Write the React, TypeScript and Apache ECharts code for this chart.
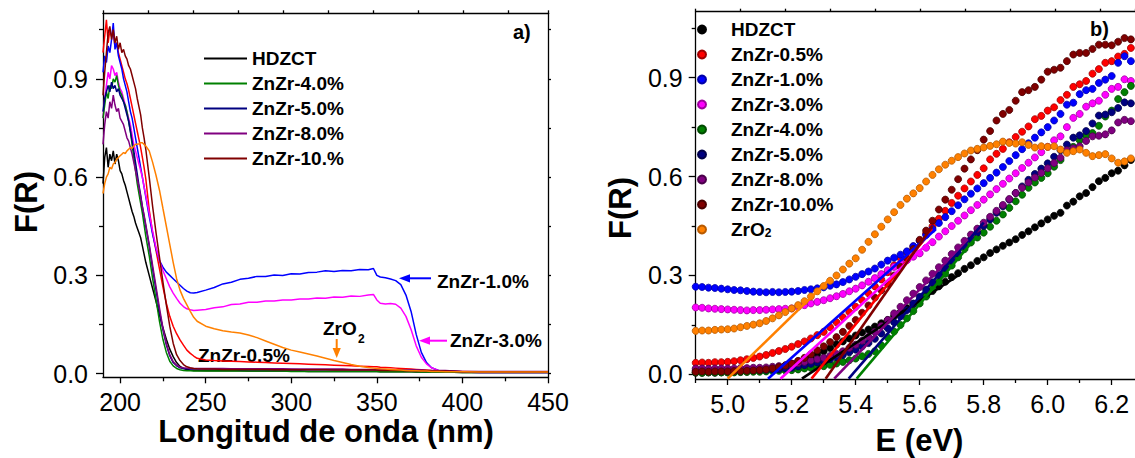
import React, { useEffect, useRef } from 'react';
import * as echarts from 'echarts';

const FONT = '"Liberation Sans", Arial, Helvetica, sans-serif';

// ---------- shared series info ----------
const NAMES_R = ['HDZCT', 'ZnZr-0.5%', 'ZnZr-1.0%', 'ZnZr-3.0%', 'ZnZr-4.0%', 'ZnZr-5.0%', 'ZnZr-8.0%', 'ZnZr-10.0%', 'ZrO2'];
const NAMES_L = ['HDZCT', 'ZnZr-0.5%', 'ZnZr-1.0%', 'ZnZr-3.0%', 'ZnZr-4.0%', 'ZnZr-5.0%', 'ZnZr-8.0%', 'ZnZr-10.%', 'ZrO2'];
const COLORS = ['#000000', '#ff0000', '#0000ff', '#ff00ff', '#008000', '#000080', '#800080', '#800000', '#ff8000'];
const EDGES = ['#000000', '#a00000', '#0000a8', '#a000a0', '#004a00', '#00004a', '#4a004a', '#4a0000', '#b85a00'];
const LEGEND_L = ['HDZCT', 'ZnZr-4.0%', 'ZnZr-5.0%', 'ZnZr-8.0%', 'ZnZr-10.%'];

// ---------- panel a) : F(R) vs wavelength ----------
const LAMBDA = [
  190, 191, 192, 193, 194, 195, 196, 197, 198, 199, 200, 201, 202, 203, 204, 205, 206, 207, 208, 209, 210, 211, 212, 213, 214, 215,
  217, 219, 221, 223, 225, 227, 229, 231, 233, 235, 237, 239, 241, 243, 245,
  250, 255, 260, 265, 270, 275, 280, 285, 290, 295, 300, 305, 310, 315, 320, 325, 330, 335, 340, 345,
  348, 350, 352, 355, 358, 361, 364, 367, 370, 373, 376, 379, 382, 386, 390,
  400, 410, 420, 430, 440, 450,
];
const A_HDZCT = [
  .58, .66, .69, .63, .67, .65, .68, .64, .67, .65, .62, .61, .59, .575, .555, .535, .515, .495, .48, .46, .445, .43, .415, .39, .365, .34,
  .30, .26, .22, .18, .14, .105, .075, .052, .034, .022, .016, .013, .011, .010, .010,
  .009, .009, .009, .009, .009, .008, .008, .008, .008, .008, .008, .008, .007, .007, .007, .007, .007, .007, .007, .007,
  .007, .007, .006, .006, .006, .006, .006, .006, .006, .005, .005, .005, .005, .005, .005,
  .004, .004, .004, .004, .004, .004,
];
const A_05 = [
  .98, 1.03, 1.08, 1.01, 1.05, 1.03, 1.04, 1.00, 1.01, .98, .96, .94, .92, .90, .885, .865, .84, .815, .79, .765, .74, .715, .69, .66, .63, .595,
  .50, .43, .375, .32, .265, .215, .175, .145, .122, .103, .087, .072, .062, .054, .047,
  .042, .040, .039, .038, .037, .036, .035, .034, .033, .032, .031, .030, .029, .028, .027, .026, .025, .024, .023, .022,
  .021, .021, .020, .019, .018, .017, .016, .015, .014, .013, .012, .011, .010, .009, .008,
  .007, .006, .005, .005, .005, .005,
];
const A_10 = [
  .92, .97, .95, 1.00, .98, 1.02, 1.07, .99, 1.01, .97, .95, .93, .90, .88, .86, .83, .80, .78, .75, .72, .69, .66, .63, .60, .57, .54,
  .48, .425, .38, .345, .325, .31, .30, .29, .28, .27, .26, .252, .247, .246, .248,
  .255, .263, .274, .279, .288, .291, .297, .297, .301, .300, .305, .304, .309, .310, .314, .312, .315, .314, .318, .317,
  .321, .300, .295, .293, .289, .284, .272, .240, .190, .120, .065, .034, .018, .010, .007,
  .005, .004, .004, .004, .004, .004,
];
const A_30 = [
  .78, .84, .88, .92, .90, .94, .93, .91, .92, .89, .87, .86, .84, .82, .80, .78, .76, .73, .70, .68, .66, .64, .62, .60, .57, .545,
  .49, .435, .385, .345, .315, .29, .265, .246, .23, .215, .205, .198, .195, .193, .194,
  .196, .201, .204, .211, .213, .218, .218, .222, .222, .225, .225, .228, .228, .231, .230, .234, .233, .237, .236, .240,
  .242, .225, .215, .213, .214, .212, .200, .175, .135, .085, .050, .030, .018, .010, .007,
  .005, .004, .004, .004, .004, .004,
];
const A_40 = [
  .78, .82, .86, .84, .88, .87, .90, .89, .91, .88, .86, .85, .83, .82, .80, .77, .74, .70, .66, .62, .58, .55, .52, .49, .455, .42,
  .36, .29, .225, .16, .105, .065, .038, .024, .016, .012, .010, .009, .009, .008, .008,
  .008, .008, .008, .008, .008, .008, .008, .008, .008, .008, .007, .007, .007, .007, .007, .007, .007, .007, .007, .007,
  .007, .007, .006, .006, .006, .006, .006, .006, .006, .006, .005, .005, .005, .005, .005,
  .004, .004, .004, .004, .004, .004,
];
const A_50 = [
  .80, .84, .86, .88, .86, .89, .87, .88, .86, .87, .85, .84, .83, .81, .79, .77, .74, .71, .68, .645, .61, .575, .545, .51, .48, .45,
  .39, .32, .255, .19, .135, .088, .055, .034, .024, .018, .016, .015, .014, .014, .014,
  .014, .014, .014, .014, .013, .013, .013, .013, .013, .013, .013, .012, .012, .012, .012, .012, .012, .012, .012, .012,
  .012, .011, .011, .011, .011, .011, .011, .010, .010, .010, .010, .009, .009, .009, .008,
  .006, .006, .006, .006, .006, .006,
];
const A_80 = [
  .70, .76, .80, .78, .83, .81, .85, .82, .80, .81, .78, .77, .76, .74, .72, .71, .69, .67, .645, .62, .595, .57, .54, .51, .485, .455,
  .395, .33, .265, .20, .14, .092, .058, .037, .026, .020, .018, .017, .016, .016, .016,
  .016, .016, .016, .015, .015, .015, .015, .015, .015, .015, .014, .014, .014, .014, .014, .014, .014, .013, .013, .013,
  .013, .013, .013, .012, .012, .012, .012, .011, .011, .011, .011, .010, .010, .010, .010,
  .007, .007, .007, .007, .007, .007,
];
const A_100 = [
  .85, .92, .98, 1.04, 1.06, 1.02, 1.05, 1.01, 1.03, .99, 1.01, .98, .99, .97, .96, .94, .93, .91, .89, .87, .84, .815, .79, .75, .72, .685,
  .60, .51, .43, .355, .28, .21, .145, .093, .058, .040, .028, .021, .018, .016, .015,
  .014, .014, .013, .013, .013, .013, .013, .013, .012, .012, .012, .012, .012, .012, .012, .011, .011, .011, .011, .011,
  .011, .011, .010, .010, .010, .010, .010, .009, .009, .009, .009, .009, .008, .008, .008,
  .006, .006, .006, .006, .006, .006,
];
const A_ZRO2 = [
  .55, .58, .60, .61, .63, .625, .64, .645, .655, .66, .665, .67, .675, .672, .68, .685, .69, .688, .695, .70, .70, .702, .705, .705, .70, .695,
  .68, .645, .605, .56, .505, .45, .395, .34, .29, .255, .23, .21, .19, .172, .16,
  .145, .137, .131, .127, .124, .118, .110, .100, .090, .080, .072, .066, .060, .054, .047, .040, .034, .028, .023, .019,
  .017, .016, .015, .014, .013, .012, .011, .010, .009, .009, .008, .008, .007, .007, .006,
  .006, .005, .005, .005, .005, .005,
];

// ---------- panel b) : F(R) vs energy ----------
const ENERGY = [
  4.90, 4.92, 4.94, 4.96, 4.98, 5.00, 5.02, 5.04, 5.06, 5.08,
  5.10, 5.12, 5.14, 5.16, 5.18, 5.20, 5.22, 5.24, 5.26, 5.28,
  5.30, 5.32, 5.34, 5.36, 5.38, 5.40, 5.42, 5.44, 5.46, 5.48,
  5.50, 5.52, 5.54, 5.56, 5.58, 5.60, 5.62, 5.64, 5.66, 5.68,
  5.70, 5.72, 5.74, 5.76, 5.78, 5.80, 5.82, 5.84, 5.86, 5.88,
  5.90, 5.92, 5.94, 5.96, 5.98, 6.00, 6.02, 6.04, 6.06, 6.08,
  6.10, 6.12, 6.14, 6.16, 6.18, 6.20, 6.22, 6.24, 6.26, 6.28,
];
const B_HDZCT = [
  .005, .005, .006, .005, .006, .006, .007, .008, .009, .011,
  .012, .015, .018, .022, .027, .032, .039, .046, .054, .062,
  .070, .080, .091, .100, .109, .118, .127, .136, .145, .155,
  .165, .177, .189, .201, .213, .225, .239, .253, .267, .281,
  .295, .307, .320, .331, .344, .355, .368, .379, .390, .400,
  .410, .423, .434, .446, .458, .470, .481, .490, .512, .524,
  .540, .550, .568, .586, .596, .610, .618, .634, .650, .655,
];
const B_05 = [
  .035, .036, .035, .037, .037, .038, .040, .043, .046, .050,
  .054, .059, .065, .071, .077, .084, .092, .100, .109, .119,
  .129, .143, .158, .173, .189, .205, .225, .246, .267, .288,
  .310, .331, .352, .371, .388, .405, .427, .449, .472, .496,
  .520, .542, .564, .585, .605, .625, .652, .669, .684, .704,
  .720, .736, .752, .774, .784, .800, .810, .832, .848, .872,
  .880, .890, .912, .926, .945, .950, .964, .972, .990, 1.005,
];
const B_10 = [
  .266, .265, .263, .262, .260, .258, .256, .255, .253, .251,
  .250, .249, .250, .249, .250, .251, .253, .256, .258, .261,
  .264, .269, .273, .280, .288, .296, .304, .312, .321, .333,
  .345, .354, .363, .373, .389, .405, .423, .441, .459, .477,
  .495, .513, .531, .548, .564, .580, .596, .612, .629, .647,
  .665, .683, .701, .718, .734, .750, .770, .790, .818, .824,
  .850, .862, .866, .884, .894, .905, .945, .965, .950, .935,
];
const B_30 = [
  .203, .202, .200, .199, .198, .197, .196, .195, .194, .195,
  .195, .196, .197, .198, .199, .200, .205, .210, .215, .220,
  .225, .231, .237, .244, .252, .260, .270, .281, .292, .304,
  .316, .326, .336, .346, .357, .367, .384, .401, .418, .434,
  .450, .466, .482, .498, .514, .530, .546, .562, .578, .594,
  .610, .626, .642, .658, .674, .690, .710, .722, .750, .778,
  .790, .812, .822, .830, .848, .866, .872, .895, .890, .905,
];
const B_40 = [
  .006, .005, .006, .006, .006, .006, .006, .007, .007, .008,
  .008, .009, .010, .011, .012, .013, .015, .018, .020, .023,
  .025, .029, .033, .038, .043, .048, .055, .062, .070, .088,
  .112, .130, .150, .170, .192, .215, .236, .258, .280, .305,
  .330, .355, .380, .400, .415, .430, .448, .466, .485, .505,
  .525, .545, .566, .582, .596, .610, .630, .650, .676, .690,
  .710, .724, .732, .754, .782, .800, .835, .856, .875, .905,
];
const B_50 = [
  .012, .012, .011, .012, .012, .012, .012, .013, .013, .013,
  .013, .014, .015, .016, .018, .020, .024, .028, .032, .036,
  .040, .046, .052, .059, .067, .075, .085, .095, .108, .124,
  .140, .158, .176, .195, .215, .235, .257, .279, .301, .323,
  .345, .367, .389, .410, .430, .450, .470, .490, .510, .530,
  .550, .570, .590, .608, .624, .640, .660, .680, .697, .718,
  .725, .738, .761, .785, .788, .795, .808, .825, .822, .835,
];
const B_80 = [
  .018, .018, .017, .018, .018, .018, .018, .019, .019, .020,
  .020, .021, .023, .025, .027, .030, .034, .038, .042, .046,
  .050, .056, .062, .070, .080, .090, .102, .114, .129, .147,
  .165, .185, .205, .225, .245, .265, .285, .305, .325, .345,
  .365, .385, .405, .424, .442, .460, .478, .496, .514, .532,
  .550, .566, .582, .597, .611, .625, .641, .657, .680, .686,
  .692, .708, .722, .724, .728, .740, .764, .772, .768, .790,
];
const B_100 = [
  .008, .009, .008, .009, .009, .009, .010, .010, .011, .012,
  .013, .015, .018, .022, .027, .033, .041, .050, .061, .073,
  .085, .098, .113, .129, .147, .165, .187, .209, .233, .255,
  .275, .300, .326, .352, .380, .408, .436, .466, .500, .530,
  .560, .592, .624, .652, .680, .712, .738, .770, .790, .802,
  .830, .856, .862, .872, .894, .918, .924, .930, .950, .970,
  .975, .975, .987, 1.000, 1.000, .998, 1.009, 1.020, 1.016, 1.018,
];
const B_ZRO2 = [
  .132, .133, .133, .135, .136, .137, .139, .143, .147, .151,
  .155, .162, .170, .179, .189, .200, .210, .222, .236, .252,
  .268, .284, .300, .318, .336, .352, .378, .402, .425, .448,
  .470, .492, .514, .533, .549, .565, .585, .605, .622, .636,
  .648, .659, .670, .679, .684, .688, .693, .698, .706, .702,
  .700, .704, .696, .688, .692, .690, .692, .682, .672, .677,
  .682, .672, .662, .665, .668, .655, .642, .646, .655, .650,
];

// linear fits (band-gap extrapolations): start energy / end energy / end F(R)
const FIT_E0 = [5.232, 5.262, 5.126, 5.165, 5.403, 5.378, 5.333, 5.306, 5.000];
const FIT_E1 = [5.72, 5.64, 5.65, 5.64, 5.78, 5.80, 5.75, 5.64, 5.32];
const FIT_F1 = [0.30, 0.44, 0.44, 0.41, 0.42, 0.46, 0.41, 0.45, 0.29];
const FIT_F0 = -0.013;

// tick values
const A_X_MAJOR = [200, 250, 300, 350, 400, 450];
const A_X_MINOR = [225, 275, 325, 375, 425];
const B_X_MAJOR = [5.0, 5.2, 5.4, 5.6, 5.8, 6.0, 6.2];
const B_X_MINOR = [4.9, 5.1, 5.3, 5.5, 5.7, 5.9, 6.1];
const Y_MAJOR = [0, 0.3, 0.6, 0.9];
const Y_MINOR = [0.15, 0.45, 0.75, 1.05];
const Y_ALL = [0, 0.15, 0.3, 0.45, 0.6, 0.75, 0.9, 1.05];

const A_SERIES = [A_HDZCT, A_05, A_10, A_30, A_40, A_50, A_80, A_100, A_ZRO2];
const B_SERIES = [B_HDZCT, B_05, B_10, B_30, B_40, B_50, B_80, B_100, B_ZRO2];

function buildOption() {
  const lineSt = { color: '#000', width: 1.3 };
  const axLine = { show: true, onZero: false, lineStyle: lineSt };
  const noLine = { show: false, onZero: false };
  const noSplit = { show: false };
  const lbl = { fontSize: 25, fontFamily: FONT, color: '#000' };

  // grid geometry
  const aLeft = 103, aTop = 13.3, aW = 445, aH = 364;
  const bLeft = 695.7, bTop = 11.7, bW = 1135 - 695.7, bH = 367.3;
  const bMax = 4.9 + bW / 320;

  const xAxis: any[] = [
    { gridIndex: 0, type: 'value', min: 190, max: 450, position: 'bottom', axisLine: axLine, splitLine: noSplit,
      axisTick: { customValues: A_X_MAJOR, length: 6, lineStyle: lineSt },
      axisLabel: { ...lbl, customValues: A_X_MAJOR, margin: 12 } },
    { gridIndex: 0, type: 'value', min: 190, max: 450, position: 'bottom', axisLine: noLine, splitLine: noSplit,
      axisTick: { customValues: A_X_MINOR, length: 4, lineStyle: lineSt }, axisLabel: { show: false } },
    { gridIndex: 0, type: 'value', min: 0, max: aW / 45, interval: 1, position: 'top', axisLine: axLine, splitLine: noSplit,
      axisTick: { length: 3, lineStyle: lineSt }, axisLabel: { show: false } },
    { gridIndex: 1, type: 'value', min: 4.9, max: bMax, position: 'bottom', axisLine: axLine, splitLine: noSplit,
      axisTick: { customValues: B_X_MAJOR, length: 6, lineStyle: lineSt },
      axisLabel: { ...lbl, customValues: B_X_MAJOR, margin: 12, formatter: (v: number) => v.toFixed(1) } },
    { gridIndex: 1, type: 'value', min: 4.9, max: bMax, position: 'bottom', axisLine: noLine, splitLine: noSplit,
      axisTick: { customValues: B_X_MINOR, length: 4, lineStyle: lineSt }, axisLabel: { show: false } },
    { gridIndex: 1, type: 'value', min: 0, max: bW / 45, interval: 1, position: 'top', axisLine: axLine, splitLine: noSplit,
      axisTick: { length: 3, lineStyle: lineSt }, axisLabel: { show: false } },
  ];
  const yAxis: any[] = [
    { gridIndex: 0, type: 'value', min: -0.011, max: 1.1, position: 'left', axisLine: axLine, splitLine: noSplit,
      axisTick: { customValues: Y_MAJOR, length: 7, lineStyle: lineSt },
      axisLabel: { ...lbl, customValues: Y_MAJOR, margin: 15, formatter: (v: number) => v.toFixed(1) } },
    { gridIndex: 0, type: 'value', min: -0.011, max: 1.1, position: 'left', axisLine: noLine, splitLine: noSplit,
      axisTick: { customValues: Y_MINOR, length: 4, lineStyle: lineSt }, axisLabel: { show: false } },
    { gridIndex: 0, type: 'value', min: -0.011, max: 1.1, position: 'right', axisLine: axLine, splitLine: noSplit,
      axisTick: { customValues: Y_ALL, length: 3, lineStyle: lineSt }, axisLabel: { show: false } },
    { gridIndex: 1, type: 'value', min: -0.014, max: 1.1, position: 'left', axisLine: axLine, splitLine: noSplit,
      axisTick: { customValues: Y_MAJOR, length: 7, lineStyle: lineSt },
      axisLabel: { ...lbl, customValues: Y_MAJOR, margin: 13, formatter: (v: number) => v.toFixed(1) } },
    { gridIndex: 1, type: 'value', min: -0.014, max: 1.1, position: 'left', axisLine: noLine, splitLine: noSplit,
      axisTick: { customValues: Y_MINOR, length: 4, lineStyle: lineSt }, axisLabel: { show: false } },
  ];

  const series: any[] = [];
  // panel b scatter first (legend picks its style)
  B_SERIES.forEach((vals, k) => {
    series.push({
      type: 'scatter', name: NAMES_R[k], xAxisIndex: 3, yAxisIndex: 3,
      data: ENERGY.map((e, i) => [e, vals[i]]),
      symbol: 'circle', symbolSize: 7,
      itemStyle: { color: COLORS[k], borderColor: EDGES[k], borderWidth: 0.8, opacity: 1 },
      z: 2,
    });
  });
  // panel a lines
  A_SERIES.forEach((vals, k) => {
    series.push({
      type: 'line', name: NAMES_L[k], xAxisIndex: 0, yAxisIndex: 0,
      data: LAMBDA.map((l, i) => [l, vals[i]]),
      symbol: 'none', showSymbol: false,
      lineStyle: { color: COLORS[k], width: 1.5 }, itemStyle: { color: COLORS[k] },
      z: 2,
    });
  });
  // linear fits in panel b
  FIT_E0.forEach((e0, k) => {
    series.push({
      type: 'line', name: 'fit ' + NAMES_R[k], xAxisIndex: 3, yAxisIndex: 3,
      data: [[e0, FIT_F0], [FIT_E1[k], FIT_F1[k]]],
      symbol: 'none', showSymbol: false,
      lineStyle: { color: COLORS[k], width: 2.6 }, itemStyle: { color: COLORS[k] },
      z: 4,
    });
  });

  const legendText = { fontSize: 19, fontWeight: 'bold', fontFamily: FONT, color: '#000', lineHeight: 19 };
  const legend: any[] = [
    { data: LEGEND_L, orient: 'vertical', left: 204, top: 49, padding: 0, icon: 'rect', itemWidth: 43, itemHeight: 2,
      itemGap: 6, itemStyle: { borderWidth: 0 }, textStyle: legendText, selectedMode: false },
    { data: NAMES_R, orient: 'vertical', left: 697, top: 20, padding: 0, icon: 'circle', itemWidth: 48, itemHeight: 8,
      itemGap: 6, textStyle: { ...legendText, rich: { sub: { fontSize: 12, fontWeight: 'bold', fontFamily: FONT, color: '#000', verticalAlign: 'bottom', padding: [12, 0, 0, 0] } } },
      formatter: (n: string) => (n === 'ZrO2' ? 'ZrO{sub|2}' : n), selectedMode: false },
  ];

  const bold = (size: number) => ({ fontSize: size, fontWeight: 'bold', fontFamily: FONT, fill: '#000' });
  const graphic: any[] = [
    { type: 'text', x: 326, y: 431.5, style: { ...bold(31), text: 'Longitud de onda (nm)', align: 'center', verticalAlign: 'middle' } },
    { type: 'text', x: 919.5, y: 440, style: { ...bold(31), text: 'E (eV)', align: 'center', verticalAlign: 'middle' } },
    { type: 'text', x: 26, y: 202, rotation: Math.PI / 2, style: { ...bold(31), text: 'F(R)', align: 'center', verticalAlign: 'middle' } },
    { type: 'text', x: 620.5, y: 208, rotation: Math.PI / 2, style: { ...bold(31), text: 'F(R)', align: 'center', verticalAlign: 'middle' } },
    { type: 'text', x: 513, y: 31.5, style: { ...bold(20), text: 'a)', align: 'left', verticalAlign: 'middle' } },
    { type: 'text', x: 1090, y: 28.5, style: { ...bold(20), text: 'b)', align: 'left', verticalAlign: 'middle' } },
    { type: 'text', x: 437, y: 281, style: { ...bold(19), text: 'ZnZr-1.0%', align: 'left', verticalAlign: 'middle' } },
    { type: 'text', x: 450, y: 340, style: { ...bold(19), text: 'ZnZr-3.0%', align: 'left', verticalAlign: 'middle' } },
    { type: 'text', x: 198, y: 355, style: { ...bold(19), text: 'ZnZr-0.5%', align: 'left', verticalAlign: 'middle' } },
    { type: 'text', x: 323, y: 328, style: { ...bold(19), text: 'ZrO', align: 'left', verticalAlign: 'middle' } },
    { type: 'text', x: 358, y: 339, style: { ...bold(12), text: '2', align: 'left', verticalAlign: 'middle' } },
    { type: 'line', shape: { x1: 431, y1: 278.3, x2: 408, y2: 278.3 }, style: { stroke: '#0000ff', lineWidth: 2 } },
    { type: 'polygon', shape: { points: [[399, 278.3], [410, 274.2], [410, 282.4]] }, style: { fill: '#0000ff' } },
    { type: 'line', shape: { x1: 447, y1: 340.7, x2: 427, y2: 340.7 }, style: { stroke: '#ff00ff', lineWidth: 2 } },
    { type: 'polygon', shape: { points: [[419, 340.7], [430, 336.6], [430, 344.8]] }, style: { fill: '#ff00ff' } },
    { type: 'line', shape: { x1: 336.7, y1: 339, x2: 336.7, y2: 350 }, style: { stroke: '#ff8000', lineWidth: 2 } },
    { type: 'polygon', shape: { points: [[336.7, 358], [332.6, 348], [340.8, 348]] }, style: { fill: '#ff8000' } },
  ];

  return {
    animation: false,
    backgroundColor: '#ffffff',
    grid: [
      { left: aLeft, top: aTop, width: aW, height: aH, show: false },
      { left: bLeft, top: bTop, width: bW, height: bH, show: false },
    ],
    xAxis,
    yAxis,
    legend,
    series,
    graphic,
  };
}

export default function App() {
  const ref = useRef<HTMLDivElement>(null);
  useEffect(() => {
    if (!ref.current) return;
    const chart = echarts.init(ref.current, null, { renderer: 'svg' });
    chart.setOption(buildOption() as any);
    return () => chart.dispose();
  }, []);
  return (
    <div
      ref={ref}
      style={{ position: 'fixed', left: 0, top: 0, width: 1135, height: 458, background: '#fff' }}
    />
  );
}
